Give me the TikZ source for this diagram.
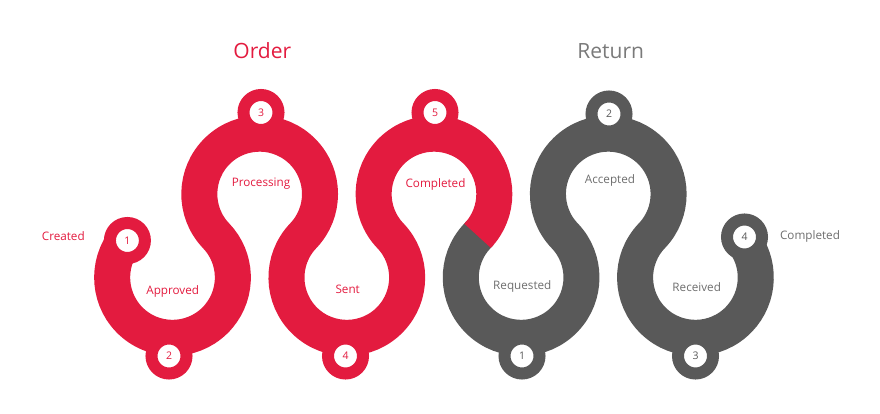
\documentclass[tikz,border=0pt]{standalone}
\usepackage{fontspec}
\setmainfont{Open Sans}
\definecolor{ordred}{HTML}{E31B3F}
\definecolor{retgray}{HTML}{595959}
\definecolor{retlabel}{HTML}{6E6E6E}
\definecolor{rettitle}{HTML}{7A7A7A}
\begin{document}
\begin{tikzpicture}[x=1pt,y=1pt,
  band/.style={line width=36pt, line cap=butt},
  numbump/.style={circle, fill=white, draw=#1, text=#1, line width=12pt,
    minimum size=35pt, inner sep=0pt, font=\fontsize{10.5}{12}\selectfont},
  lbl/.style={font=\fontsize{11.7}{13}\selectfont},
  ttl/.style={font=\fontsize{21}{24}\selectfont}]
\useasboundingbox (0,-414) rectangle (880,0);
\def\R{60.35pt}
\coordinate (B0) at (172.5,-277.5);
\coordinate (T0) at (259.65,-194);
\coordinate (B1) at (346.8,-277.5);
\coordinate (T1) at (433.95,-194);
\coordinate (B2) at (521.1,-277.5);
\coordinate (T2) at (608.25,-194);
\coordinate (B3) at (695.4,-277.5);
% return band (gray)
\draw[band, retgray] (T1) ++(-40:\R)
  arc[start angle=-40, end angle=-43.77, radius=\R]
  arc[start angle=136.23, end angle=403.77, radius=\R]
  arc[start angle=223.77, end angle=-43.77, radius=\R]
  arc[start angle=136.23, end angle=400, radius=\R];
% order band (red)
\draw[band, ordred] (B0) ++(140:\R)
  arc[start angle=140, end angle=403.77, radius=\R]
  arc[start angle=223.77, end angle=-43.77, radius=\R]
  arc[start angle=136.23, end angle=403.77, radius=\R]
  arc[start angle=223.77, end angle=-43.77, radius=\R];
% numbered bumps
\node[numbump=ordred] (o1) at (127.4,-240.5) {1};
\node[numbump=ordred] (o2) at (169,-356) {2};
\node[numbump=ordred] (o3) at (261,-112.5) {3};
\node[numbump=ordred] (o4) at (345.5,-356) {4};
\node[numbump=ordred] (o5) at (435,-112.5) {5};
\node[numbump=retgray] (r1) at (522,-356) {1};
\node[numbump=retgray] (r2) at (609,-114) {2};
\node[numbump=retgray] (r3) at (695.5,-356) {3};
\node[numbump=retgray] (r4) at (744.5,-237) {4};
% labels
\node[lbl, text=ordred] (created) at (63.3,-236) {Created};
\node[lbl, text=ordred] (approved) at (172.7,-291) {Approved};
\node[lbl, text=ordred] (processing) at (261,-183.3) {Processing};
\node[lbl, text=ordred] (sent) at (347.7,-289.3) {Sent};
\node[lbl, text=ordred] (ocompleted) at (435.5,-184.3) {Completed};
\node[lbl, text=retlabel] (requested) at (522.3,-286.7) {Requested};
\node[lbl, text=retlabel] (accepted) at (610,-180) {Accepted};
\node[lbl, text=retlabel] (received) at (696.7,-286.7) {Received};
\node[lbl, text=retlabel] (rcompleted) at (810,-236) {Completed};
% titles
\node[ttl, text=ordred] (order) at (262.3,-51) {Order};
\node[ttl, text=rettitle] (return) at (610.7,-51) {Return};
\end{tikzpicture}
\end{document}
